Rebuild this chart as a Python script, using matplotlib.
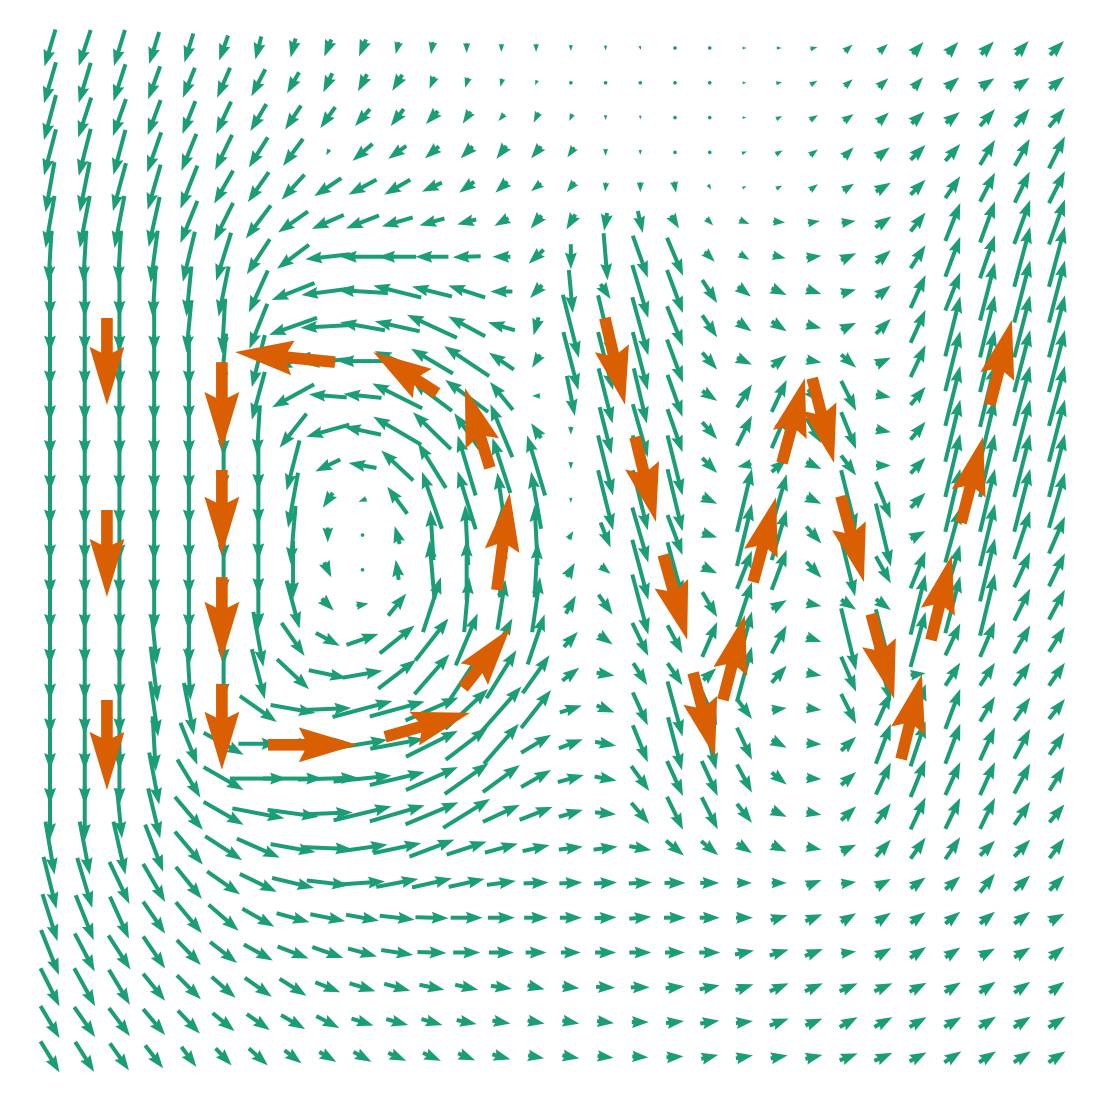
import numpy as np
import matplotlib
matplotlib.use('Agg')
import matplotlib.pyplot as plt

#%%------------------------ DATA ----------------------------------------------
# green field on a 30 x 30 grid (row 0 = top)
# components in pixels, x to the right, y upwards
U = [
    [-11,-12,-11,-10,-9,-9,-6,-5,-7,-7,-3,-2,0,0,0,0,0,1,2,3,4,5,7,8,9,11,11,13,13,14],
    [-12,-12,-12,-12,-12,-13,-14,-12,-9,-9,-10,-5,-3,-2,-2,0,0,0,1,3,4,6,7,8,10,10,13,14,15,15],
    [-12,-13,-13,-13,-13,-15,-16,-16,-15,-15,-13,-12,-8,-6,-5,-3,0,0,0,3,4,6,8,10,11,13,14,15,15,16],
    [-12,-12,-12,-14,-15,-17,-19,-20,-3,-20,-18,-14,-12,-10,-10,-7,0,0,1,2,5,7,8,10,13,15,15,15,15,16],
    [-9,-10,-13,-13,-17,-19,-21,-23,-27,-28,-26,-20,-15,-12,-10,-8,-1,0,2,3,4,6,8,11,15,15,15,15,15,16],
    [-9,-10,-10,-11,-17,-19,-25,-30,-32,-33,-31,-25,-19,-14,-11,-9,-3,5,8,7,10,12,12,14,16,15,15,15,16,16],
    [-3,-3,-3,-7,-12,-15,-23,-32,-45,-45,-38,-33,-28,-18,-15,0,4,15,16,10,10,13,15,15,15,15,15,15,16,16],
    [0,0,0,-3,-5,-10,-19,-43,-53,-50,-48,-40,-37,-22,-12,4,10,16,16,15,13,15,15,15,15,15,15,15,16,16],
    [0,0,0,0,-5,-3,-18,-48,-55,-45,-45,-50,-37,-27,-5,16,15,16,16,15,14,15,15,15,15,15,15,15,16,16],
    [0,0,0,0,0,-5,-13,-35,-50,-50,-45,-42,-45,-25,-8,15,15,15,16,15,15,15,15,15,15,15,15,15,16,16],
    [0,0,0,0,0,0,-13,-42,-38,-38,-50,-40,-43,-23,-8,8,14,13,15,15,15,15,12,15,15,15,15,15,16,16],
    [0,0,0,0,0,0,-3,-27,-43,-37,-48,-38,-25,-22,-10,0,12,15,15,15,15,15,15,15,15,15,15,15,16,16],
    [0,0,0,0,0,0,0,-13,-25,-28,-32,-28,-18,-18,-18,0,15,15,15,15,-14,15,15,15,15,15,15,15,16,16],
    [0,0,0,0,0,0,0,-10,-10,-8,-20,-20,-18,-8,-10,0,15,15,15,15,15,15,15,15,15,15,15,15,16,16],
    [0,0,0,0,0,0,0,-5,0,0,-5,-3,-3,0,-3,5,10,16,15,15,15,15,15,15,15,15,15,15,16,16],
    [0,0,0,0,0,0,0,0,7,3,-3,-5,0,3,3,8,10,16,15,15,15,15,15,13,15,15,15,15,16,16],
    [0,0,0,0,0,0,0,13,12,12,18,18,5,8,8,10,14,16,15,15,15,15,15,15,15,15,15,15,16,16],
    [0,0,0,5,0,0,10,23,24,32,35,33,22,22,17,14,14,16,15,15,15,15,15,15,15,15,15,15,16,16],
    [0,0,0,7,3,0,13,32,38,40,38,35,33,30,27,17,18,14,15,13,15,15,15,15,15,15,15,15,16,16],
    [0,0,0,8,10,3,37,45,47,60,55,53,43,40,30,22,18,15,15,15,15,15,15,15,15,15,15,15,16,16],
    [0,0,0,3,17,40,40,45,45,50,54,52,42,35,30,24,21,15,14,13,15,15,15,15,15,15,15,15,16,15],
    [0,0,0,10,23,40,57,60,60,58,55,52,44,37,30,26,22,18,16,16,15,15,15,15,15,15,15,15,16,15],
    [0,0,5,12,28,40,52,51,50,58,55,53,47,37,33,24,21,18,16,16,15,15,15,15,15,15,15,15,16,15],
    [9,10,12,18,28,37,43,45,49,50,48,45,40,33,27,24,24,22,18,17,15,15,15,15,15,15,15,15,16,15],
    [13,15,20,22,26,33,37,42,42,45,42,40,36,29,25,23,23,23,21,19,15,15,15,15,15,15,15,15,16,15],
    [15,18,19,22,26,30,32,33,35,33,35,33,32,27,24,22,22,22,22,20,17,17,17,15,15,15,15,15,16,15],
    [18,20,22,22,24,27,29,31,31,29,32,29,27,25,21,20,21,22,20,21,19,19,18,15,16,16,15,15,16,15],
    [19,21,21,22,24,24,27,27,25,26,26,25,23,21,17,17,19,19,19,20,18,19,18,18,18,17,16,16,16,15],
    [19,21,21,22,22,22,23,24,23,22,22,21,20,18,17,17,17,17,18,19,17,19,17,18,18,17,17,17,17,17],
    [19,19,19,18,15,16,19,17,17,18,18,18,17,18,16,17,16,16,17,17,17,17,17,18,18,17,17,17,17,17],
]
V = [
    [-37,-36,-36,-32,-29,-25,-23,-19,-17,-17,-12,-12,-10,-8,-8,-6,-5,-4,-2,-1,0,0,2,7,8,12,12,13,14,14],
    [-41,-40,-37,-33,-30,-30,-27,-21,-19,-17,-16,-12,-10,-8,-5,-3,0,-2,-2,0,0,1,4,7,9,11,11,9,10,12],
    [-45,-40,-37,-35,-33,-32,-27,-24,-21,-17,-17,-13,-12,-7,-10,-7,-5,-4,0,0,0,3,5,7,10,12,11,17,18,19],
    [-46,-47,-45,-40,-37,-35,-30,-27,-6,-17,-13,-12,-12,-13,-12,-10,-7,-5,-1,-2,2,4,6,10,10,15,17,25,27,32],
    [-50,-50,-48,-45,-43,-33,-30,-25,-18,-15,-15,-9,-11,-11,-8,-10,-9,-10,-11,-5,2,3,6,7,9,15,22,29,31,32],
    [-52,-52,-52,-50,-42,-38,-33,-21,-14,-13,-9,-7,-5,-8,-13,-15,-18,-22,-13,-7,-4,-1,2,2,11,19,38,41,44,45],
    [-52,-52,-52,-52,-50,-48,-35,-24,-5,0,0,0,-1,0,-14,-25,-47,-42,-38,-10,-6,-3,2,7,13,23,40,43,60,60],
    [-52,-52,-52,-52,-50,-50,-42,-17,-7,3,12,10,12,0,-13,-43,-15,-53,-43,-23,-10,-7,-5,4,12,33,38,58,62,62],
    [-52,-52,-52,-52,-52,-55,-45,-17,-3,8,10,23,20,8,-18,-63,-62,-58,-40,-22,-10,-10,-4,7,15,33,60,62,62,62],
    [-52,-52,-52,-52,-52,-55,-52,-15,-5,0,20,25,30,17,-13,-58,-58,-58,-43,-17,-7,12,-3,-13,7,32,60,62,62,62],
    [-52,-52,-52,-52,-52,-52,-48,-23,3,4,25,30,32,28,0,-40,-55,-55,-42,-10,23,32,-13,-30,-3,18,60,62,60,60],
    [-52,-52,-52,-52,-52,-52,-50,-34,-12,8,28,37,35,53,15,-8,-47,-53,-43,-17,30,35,-25,-37,-3,18,62,63,62,62],
    [-52,-52,-52,-52,-52,-52,-50,-50,-12,5,30,45,60,55,60,-7,-60,-60,-60,-15,-3,13,-7,-20,0,16,63,63,63,63],
    [-52,-52,-52,-52,-52,-52,-50,-55,-15,-3,27,57,58,55,57,-5,-60,-60,-62,-7,63,52,-7,-60,-37,15,63,63,63,55],
    [-52,-52,-52,-52,-52,-52,-50,-58,-15,-3,18,50,60,55,60,8,-25,-55,-40,-5,62,50,-17,-55,-63,8,55,62,48,37],
    [-52,-52,-52,-52,-52,-52,-50,-58,-15,0,20,58,60,55,55,14,-8,-60,-55,-7,38,40,-16,-53,-27,37,50,63,35,33],
    [-52,-52,-52,-52,-52,-52,-50,-48,-12,2,22,55,55,50,55,18,-20,-60,-47,-25,45,9,-3,-10,-11,60,57,62,32,30],
    [-52,-52,-52,-50,-52,-52,-55,-33,-13,11,28,42,52,42,50,15,-10,-33,-28,35,56,28,-5,-62,-60,55,32,35,28,25],
    [-52,-52,-52,-55,-52,-52,-50,-30,-8,7,29,40,50,48,38,13,-3,-22,-22,12,55,17,-3,-35,-55,2,23,23,23,23],
    [-52,-52,-52,-55,-52,-50,-26,-8,2,16,15,23,40,45,38,7,-7,-33,-55,-33,-20,2,-2,-30,33,50,40,25,23,20],
    [-52,-52,-52,-55,-42,-22,0,0,2,8,10,26,32,40,18,9,-4,-37,-53,-52,-32,-8,-1,14,40,45,40,33,30,22],
    [-52,-52,-52,-52,-38,-23,0,0,2,6,13,23,31,27,17,7,-4,-25,-35,-35,-28,-12,-1,13,32,37,33,33,30,24],
    [-53,-55,-50,-50,-33,-23,-10,-7,2,14,16,22,29,17,13,7,-2,-21,-33,-32,-19,-7,-3,14,20,32,31,31,23,18],
    [-53,-53,-53,-47,-33,-24,-19,-8,-2,7,10,17,13,9,6,3,3,-4,-15,-14,-10,-7,-3,7,17,21,22,15,17,20],
    [-52,-50,-42,-38,-32,-23,-18,-10,-5,3,8,9,8,4,1,1,1,1,0,0,0,0,6,2,8,11,13,19,15,15],
    [-47,-45,-42,-32,-31,-26,-18,-9,-7,-6,-4,-1,0,0,0,0,1,2,0,0,0,5,7,9,10,11,12,12,12,8],
    [-45,-38,-34,-32,-25,-21,-16,-12,-11,-8,-5,-1,0,0,0,0,0,0,0,0,4,6,7,2,9,11,10,8,10,12],
    [-38,-38,-35,-27,-24,-21,-19,-17,-10,-8,-7,-5,-5,-3,-4,-2,-1,0,2,4,6,8,8,8,8,9,10,11,11,11],
    [-32,-30,-28,-26,-23,-18,-16,-14,-12,-7,-6,-6,-4,-3,-3,-3,-2,0,2,3,2,7,7,10,10,10,10,11,11,11],
    [-31,-30,-27,-23,-20,-17,-17,-13,-10,-10,-8,-8,-7,-5,-3,-3,-2,-1,1,4,3,3,4,7,8,9,11,11,11,11],
]

# orange guide arrows: tail position and components in grid units
ox = [1.64, 1.64, 1.64,
      4.95, 4.95, 4.95, 4.95, 6.28, 9.65, 11.90, 12.87, 12.67, 11.15, 8.21,
      15.98, 16.85, 17.66, 18.52, 19.38, 20.25, 21.08, 21.95, 22.78, 23.65,
      24.51, 25.37, 26.24, 27.07]
oy = [21.24, 15.72, 10.26,
      19.97, 16.87, 13.79, 10.72, 8.97, 9.20, 10.60, 13.42, 16.93, 19.08, 19.97,
      21.24, 17.82, 14.43, 11.04, 10.26, 13.65, 17.07, 19.51, 16.12, 12.73,
      8.56, 11.98, 15.35, 18.74]
ou = [0.0, 0.0, 0.0,
      0.0, 0.0, 0.0, 0.0, 2.56, 2.45, 1.35, 0.37, -0.72, -1.84, -2.88,
      0.58, 0.60, 0.69, 0.63, 0.63, 0.66, 0.66, 0.63, 0.66, 0.66,
      0.60, 0.60, 0.63, 0.63]
ov = [-2.50, -2.50, -2.59,
      -2.53, -2.44, -2.38, -2.47, 0.0, 0.69, 1.72, 2.79, 2.30, 1.18, 0.29,
      -2.50, -2.44, -2.44, -2.41, 2.44, 2.44, 2.44, -2.44, -2.47, -2.44,
      2.44, 2.44, 2.47, 2.44]

green = '#1b9e77'
orange = '#d95f02'
#-----------------------------------------------------------------------------

U = np.array(U, dtype=float)
V = np.array(V, dtype=float)
nrow, ncol = U.shape
X, Y = np.meshgrid(np.arange(ncol), nrow - 1 - np.arange(nrow))

fig = plt.figure(figsize=(11.08, 11.08), dpi=100)
ax = fig.add_axes([0, 0, 1, 1])

ax.quiver(X, Y, U, V, color=green, pivot='middle', angles='xy',
          scale_units='xy', scale=34.75, width=0.0036,
          headwidth=3, headlength=4.2, headaxislength=3.8)

ax.quiver(ox, oy, ou, ov, color=orange, pivot='tail', angles='xy',
          scale_units='xy', scale=1, width=0.0105, zorder=3)

ax.set_xlim(-1.44, 30.47)
ax.set_ylim(-1.47, 30.38)
ax.axis('off')

fig.savefig('out.png', dpi=100)
